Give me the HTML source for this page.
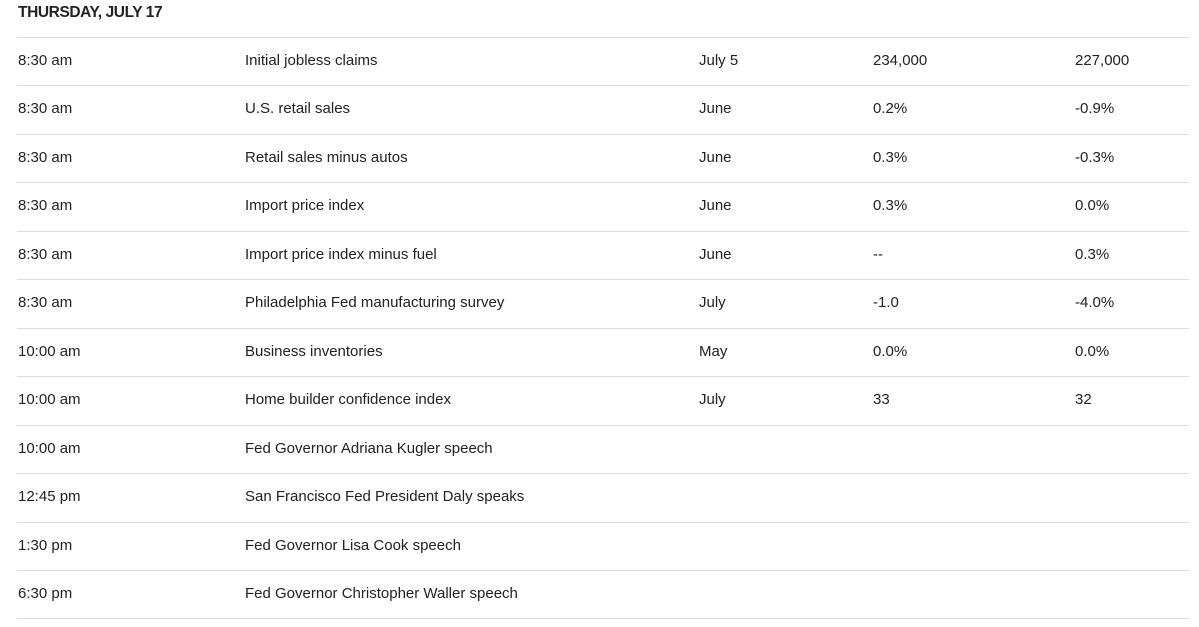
<!DOCTYPE html>
<html><head><meta charset="utf-8"><style>
body{margin:0;background:#fff;width:1199px;height:627px;overflow:hidden;font-family:"Liberation Sans",sans-serif;color:#222}
.h{position:absolute;left:18px;top:4px;font-size:15.5px;font-weight:bold;letter-spacing:-0.4px;color:#222}
.line{position:absolute;left:17px;width:1172px;height:1px;background:#dcdcdc}
.c{position:absolute;font-size:15px;line-height:20px;white-space:nowrap}
</style></head><body>
<div class="h">THURSDAY, JULY 17</div>
<div id="t"></div>
<script>
const times=["8:30 am","8:30 am","8:30 am","8:30 am","8:30 am","8:30 am","10:00 am","10:00 am","10:00 am","12:45 pm","1:30 pm","6:30 pm"];
const events=["Initial jobless claims","U.S. retail sales","Retail sales minus autos","Import price index","Import price index minus fuel","Philadelphia Fed manufacturing survey","Business inventories","Home builder confidence index","Fed Governor Adriana Kugler speech","San Francisco Fed President Daly speaks","Fed Governor Lisa Cook speech","Fed Governor Christopher Waller speech"];
const periods=["July 5","June","June","June","June","July","May","July","","","",""];
const forecasts=["234,000","0.2%","0.3%","0.3%","--","-1.0","0.0%","33","","","",""];
const previous=["227,000","-0.9%","-0.3%","0.0%","0.3%","-4.0%","0.0%","32","","","",""];
const t=document.getElementById('t');
const top0=37,rh=48.45;
const cols=[[times,18,'time'],[events,245,'event'],[periods,699,'period'],[forecasts,873,'forecast'],[previous,1075,'previous']];
function ln(y){const d=document.createElement('div');d.className='line';d.style.top=Math.round(y)+'px';


t.appendChild(d);}
ln(top0);
for(let i=0;i<times.length;i++){
 const y=top0+rh*i;
 cols.forEach(([arr,x,n])=>{
  const c=document.createElement('div');c.className='c';c.textContent=arr[i];
  c.style.left=x+'px';c.style.top=Math.round(y+14)+'px';
  
  
  t.appendChild(c);
 });
 ln(y+rh);
}
</script>
</body></html>
